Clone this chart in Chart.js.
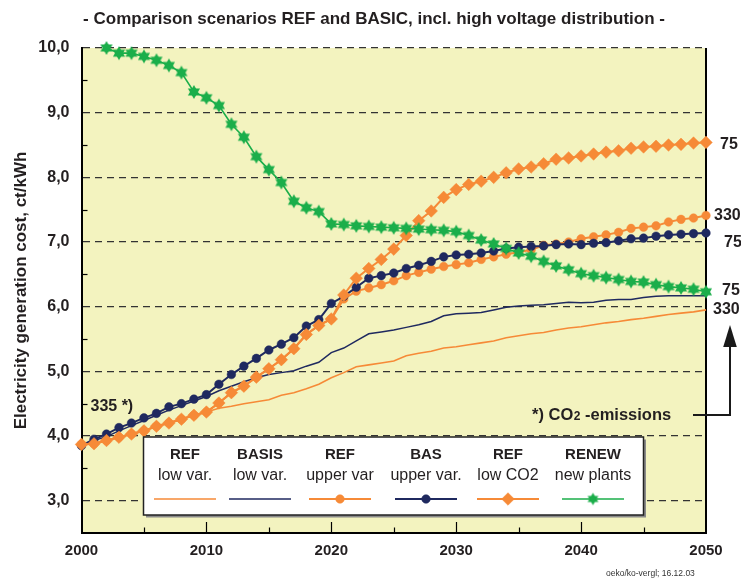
<!DOCTYPE html>
<html><head><meta charset="utf-8">
<script src="https://cdn.jsdelivr.net/npm/chart.js@4.4.0/dist/chart.umd.min.js"></script>
<style>html,body{margin:0;padding:0;background:#fff;}canvas{display:block;}</style>
</head><body>
<canvas id="c" width="741" height="578"></canvas>
<script>
// ---------- data ----------
const years = [2000,2001,2002,2003,2004,2005,2006,2007,2008,2009,
  2010,2011,2012,2013,2014,2015,2016,2017,2018,2019,
  2020,2021,2022,2023,2024,2025,2026,2027,2028,2029,
  2030,2031,2032,2033,2034,2035,2036,2037,2038,2039,
  2040,2041,2042,2043,2044,2045,2046,2047,2048,2049,2050];

const refLowVar = [3.87,3.88,3.93,3.98,4.03,4.08,4.15,4.20,4.26,4.32,
  4.37,4.43,4.46,4.50,4.53,4.56,4.63,4.67,4.73,4.80,
  4.90,4.98,5.07,5.10,5.13,5.16,5.24,5.28,5.31,5.36,
  5.38,5.41,5.44,5.47,5.52,5.55,5.58,5.60,5.64,5.67,
  5.69,5.72,5.75,5.77,5.80,5.82,5.85,5.88,5.90,5.92,5.95];

const basisLowVar = [3.85,3.93,3.99,4.08,4.16,4.24,4.32,4.40,4.47,4.54,
  4.61,4.70,4.77,4.84,4.90,4.95,4.98,5.01,5.08,5.14,
  5.29,5.36,5.47,5.58,5.61,5.64,5.68,5.72,5.77,5.86,
  5.89,5.90,5.91,5.95,5.99,6.01,6.02,6.03,6.05,6.07,
  6.06,6.07,6.10,6.11,6.11,6.14,6.16,6.17,6.17,6.17,6.17];

const refUpperVar = [3.87,3.88,3.93,3.98,4.03,4.08,4.15,4.20,4.26,4.32,
  4.37,4.51,4.67,4.77,4.91,5.04,5.18,5.35,5.57,5.71,
  5.81,6.12,6.24,6.29,6.34,6.40,6.48,6.53,6.58,6.62,
  6.65,6.68,6.73,6.77,6.81,6.84,6.88,6.95,6.97,7.00,
  7.05,7.08,7.11,7.15,7.21,7.23,7.25,7.31,7.35,7.37,7.41];

const basUpperVar = [3.85,3.95,4.03,4.13,4.20,4.28,4.35,4.45,4.50,4.57,
  4.64,4.80,4.95,5.08,5.20,5.33,5.42,5.52,5.70,5.80,
  6.05,6.16,6.30,6.44,6.48,6.52,6.59,6.64,6.70,6.77,
  6.80,6.81,6.83,6.86,6.90,6.92,6.93,6.94,6.96,6.97,
  6.96,6.98,6.99,7.02,7.05,7.06,7.09,7.11,7.12,7.13,7.14];

const refLowCO2 = [3.87,3.88,3.93,3.98,4.03,4.08,4.15,4.20,4.26,4.32,
  4.37,4.51,4.67,4.77,4.91,5.04,5.18,5.35,5.57,5.71,
  5.81,6.18,6.44,6.59,6.73,6.89,7.10,7.33,7.48,7.69,
  7.81,7.89,7.94,8.00,8.07,8.13,8.16,8.21,8.28,8.30,
  8.33,8.36,8.39,8.41,8.45,8.47,8.48,8.50,8.51,8.53,8.54];

const renewNewPlants = [null,null,10.00,9.92,9.92,9.87,9.81,9.73,9.62,9.32,
  9.23,9.11,8.82,8.62,8.32,8.12,7.92,7.63,7.53,7.47,
  7.28,7.27,7.25,7.24,7.23,7.22,7.21,7.20,7.19,7.18,
  7.16,7.10,7.03,6.97,6.90,6.83,6.78,6.70,6.63,6.57,
  6.51,6.48,6.45,6.42,6.39,6.38,6.34,6.31,6.29,6.27,6.23];

const legendTop = ['REF','BASIS','REF','BAS','REF','RENEW'];
const legendBottom = ['low var.','low var.','upper var','upper var.','low CO2','new plants'];
const endLabels = ['75','330','75','75','330'];

const xTickValues = [2000,2010,2020,2030,2040,2050];
const xTickLabels = ['2000','2010','2020','2030','2040','2050'];
const yTickValues = [3,4,5,6,7,8,9,10];
const yTickLabels = ['3,0','4,0','5,0','6,0','7,0','8,0','9,0','10,0'];

const titleText = '- Comparison scenarios REF and BASIC, incl. high voltage distribution -';
const yTitleText = 'Electricity generation cost, ct/kWh';

// ---------- style ----------
const FONT = '"Liberation Sans", Arial, Helvetica, sans-serif';
const ORANGE = '#F68A37';
const NAVY = '#1F295F';
const GREEN = '#1BAE4A';
const PLOT_BG = '#F3F3BF';
const TXT = '#231F20';

function makeStar(r, color) {
  const s = Math.ceil(2 * r + 2);
  const cv = document.createElement('canvas');
  cv.width = s; cv.height = s;
  const c = cv.getContext('2d');
  const cx = s / 2, cy = s / 2;
  c.fillStyle = color;
  [-90, 90].forEach(start => {
    c.beginPath();
    for (let k = 0; k < 3; k++) {
      const a = (start + k * 120) * Math.PI / 180;
      const px = cx + r * Math.cos(a), py = cy + r * Math.sin(a);
      k ? c.lineTo(px, py) : c.moveTo(px, py);
    }
    c.closePath(); c.fill();
  });
  return cv;
}
const starBig = makeStar(7, GREEN);
const starSmall = makeStar(6.2, GREEN);

const toPts = arr => years.map((yr, i) => ({x: yr, y: arr[i]}));

const datasets = [
  {label: 'RENEW new plants', data: toPts(renewNewPlants), borderColor: GREEN, backgroundColor: GREEN,
   borderWidth: 1.6, pointStyle: starBig, pointRadius: 7, order: 0},
  {label: 'REF low CO2', data: toPts(refLowCO2), borderColor: ORANGE, backgroundColor: ORANGE,
   borderWidth: 2, pointStyle: 'rectRot', pointRadius: 6.3, pointBorderWidth: 0.5, order: 1},
  {label: 'BAS upper var.', data: toPts(basUpperVar), borderColor: NAVY, backgroundColor: NAVY,
   borderWidth: 2, pointStyle: 'circle', pointRadius: 4.3, pointBorderWidth: 0.5, order: 2},
  {label: 'REF upper var', data: toPts(refUpperVar), borderColor: ORANGE, backgroundColor: ORANGE,
   borderWidth: 2, pointStyle: 'circle', pointRadius: 4.3, pointBorderWidth: 0.5, order: 3},
  {label: 'BASIS low var.', data: toPts(basisLowVar), borderColor: NAVY, backgroundColor: NAVY,
   borderWidth: 1.5, pointRadius: 0, order: 4},
  {label: 'REF low var.', data: toPts(refLowVar), borderColor: ORANGE, backgroundColor: ORANGE,
   borderWidth: 1.6, pointRadius: 0, order: 5}
];
datasets.forEach(d => { d.clip = false; d.tension = 0; d.spanGaps = false; d.pointHoverRadius = d.pointRadius; });

// legend order maps to datasets
const legendSets = [5, 4, 3, 2, 1, 0];

const deco = {
  id: 'deco',
  beforeDraw(chart) {
    const {ctx, chartArea: a} = chart;
    ctx.save();
    ctx.fillStyle = PLOT_BG;
    ctx.fillRect(a.left, a.top, a.right - a.left, a.bottom - a.top);
    ctx.restore();
  },
  beforeDatasetsDraw(chart) {
    const {ctx, chartArea: a, scales: {x, y}} = chart;
    ctx.save();
    ctx.strokeStyle = '#000';
    ctx.lineWidth = 2;
    ctx.beginPath(); ctx.moveTo(a.right, a.top); ctx.lineTo(a.right, a.bottom + 1); ctx.stroke();
    ctx.lineWidth = 1.2;
    for (let v = 3.5; v < 10; v += 1) {
      const py = Math.round(y.getPixelForValue(v)) + 0.5;
      ctx.beginPath(); ctx.moveTo(a.left, py); ctx.lineTo(a.left + 6, py); ctx.stroke();
    }
    for (let yr = 2005; yr < 2050; yr += 5) {
      const px = Math.round(x.getPixelForValue(yr)) + 0.5;
      const len = (yr % 10 === 0) ? 11 : 5.5;
      ctx.beginPath(); ctx.moveTo(px, a.bottom); ctx.lineTo(px, a.bottom - len); ctx.stroke();
    }
    ctx.restore();
  },
  afterDraw(chart) {
    const {ctx} = chart;
    ctx.save();
    ctx.fillStyle = TXT;
    ctx.font = 'bold 17px ' + FONT;
    ctx.textAlign = 'center'; ctx.textBaseline = 'middle';
    ctx.fillText(titleText, 374, 19);

    ctx.font = 'bold 16px ' + FONT;
    ctx.textAlign = 'left';
    const endPos = [[720, 144.5], [714, 216], [724, 242.5], [722, 291], [713, 310]];
    endLabels.forEach((t, i) => ctx.fillText(t, endPos[i][0], endPos[i][1]));

    ctx.fillText('335 *)', 90.5, 407);

    ctx.textBaseline = 'alphabetic';
    ctx.font = 'bold 16.5px ' + FONT;
    let xx = 532;
    ctx.fillText('*) CO', xx, 420);
    xx += ctx.measureText('*) CO').width;
    ctx.font = 'bold 12px ' + FONT;
    ctx.fillText('2', xx + 0.5, 420);
    xx += ctx.measureText('2').width + 0.5;
    ctx.font = 'bold 16.5px ' + FONT;
    ctx.fillText(' -emissions', xx, 420);

    ctx.strokeStyle = '#1a1a1a'; ctx.lineWidth = 2;
    ctx.beginPath(); ctx.moveTo(693, 415); ctx.lineTo(730, 415); ctx.lineTo(730, 345); ctx.stroke();
    ctx.fillStyle = '#1a1a1a';
    ctx.beginPath(); ctx.moveTo(730, 325); ctx.lineTo(736.8, 347); ctx.lineTo(723.2, 347); ctx.closePath(); ctx.fill();

    const bx = 143.5, by = 437, bw = 500, bh = 78;
    ctx.fillStyle = '#8a8a8a';
    ctx.fillRect(bx + 2.5, by + 2.5, bw, bh);
    ctx.fillStyle = '#fff';
    ctx.fillRect(bx, by, bw, bh);
    ctx.strokeStyle = '#222'; ctx.lineWidth = 1.5;
    ctx.strokeRect(bx, by, bw, bh);

    const cols = [185, 260, 340, 426, 508, 593];
    ctx.textAlign = 'center'; ctx.textBaseline = 'middle';
    cols.forEach((cx, i) => {
      ctx.fillStyle = TXT;
      ctx.font = 'bold 15px ' + FONT;
      ctx.fillText(legendTop[i], cx, 455);
      ctx.font = '16px ' + FONT;
      ctx.fillText(legendBottom[i], cx, 476);
      const ds = chart.data.datasets[legendSets[i]];
      ctx.strokeStyle = ds.borderColor; ctx.lineWidth = ds.borderWidth;
      ctx.beginPath(); ctx.moveTo(cx - 31, 499); ctx.lineTo(cx + 31, 499); ctx.stroke();
      if (ds.pointRadius > 0) {
        const style = ds.pointStyle === starBig ? starSmall : ds.pointStyle;
        const r = style === 'rectRot' ? 6.3 : ds.pointRadius;
        ctx.fillStyle = ds.backgroundColor; ctx.strokeStyle = ds.borderColor; ctx.lineWidth = 0.5;
        Chart.helpers.drawPoint(ctx, {pointStyle: style, rotation: 0, radius: r, borderWidth: 0.5}, cx, 499);
      }
    });

    ctx.fillStyle = '#333';
    ctx.font = '8.5px ' + FONT;
    ctx.textAlign = 'left'; ctx.textBaseline = 'middle';
    ctx.fillText('oeko/ko-vergl; 16.12.03', 606, 574);
    ctx.restore();
  }
};

Chart.defaults.font.family = FONT;
Chart.defaults.color = TXT;

new Chart(document.getElementById('c'), {
  type: 'line',
  data: {datasets},
  options: {
    responsive: false,
    animation: false,
    events: [],
    layout: {padding: {top: 48, right: 35, bottom: 15, left: 0}},
    plugins: {legend: {display: false}, tooltip: {enabled: false}, title: {display: false}},
    scales: {
      x: {
        type: 'linear', min: 2000, max: 2050,
        afterBuildTicks: s => { s.ticks = xTickValues.map(v => ({value: v})); },
        afterFit: s => { s.height = 30; },
        ticks: {
          font: {size: 15, weight: 'bold'}, color: TXT, padding: 9, maxRotation: 0,
          callback: v => xTickLabels[xTickValues.indexOf(v)]
        },
        grid: {display: false, drawTicks: false},
        border: {display: true, color: '#000', width: 2}
      },
      y: {
        type: 'linear', min: 2.5, max: 10,
        afterBuildTicks: s => { s.ticks = yTickValues.map(v => ({value: v})); },
        afterFit: s => { s.width = 81.5; },
        ticks: {
          font: {size: 16, weight: 'bold'}, color: TXT, padding: 12,
          callback: v => yTickLabels[yTickValues.indexOf(v)]
        },
        grid: {display: true, drawTicks: false, color: '#333', lineWidth: 1.2},
        border: {display: true, color: '#000', width: 2, dash: [7, 5]},
        title: {display: true, text: yTitleText, font: {size: 17, weight: 'bold'}, color: TXT,
                padding: {top: 11, bottom: 0}}
      }
    }
  },
  plugins: [deco]
});
</script>
</body></html>
